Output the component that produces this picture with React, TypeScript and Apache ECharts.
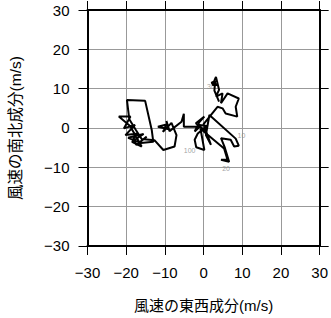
import React, { useEffect, useRef } from "react";
import * as echarts from "echarts";

// Hodograph: east-west (u) and north-south (v) wind components (m/s)
const uWind = [
  -14.7, -17.4, -18.1, -16.8, -20.2, -17.7, -20.6, -18.9, -21.9, -19.0,
  -16.0, -18.5, -15.5, -19.5, -16.2, -13.0, -13.4, -15.1, -19.8, -19.2,
  -17.5, -16.0, -12.7, -10.4, -7.5, -7.0, -8.3, -10.5, -9.6, -11.8,
  -9.0, -9.6, -8.8, -5.7, -5.1, -5.1, -1.0, -2.3, -1.1, 0.2,
  -2.0, 0.5, -1.5, 0.8, -1.5, -2.3, -1.9, 0.2, -0.8, 5.3,
  6.2, 4.5, 6.6, 5.5, 4.5, 7.0, 7.9, 9.1, 8.3, 1.5,
  0.6, 1.9, 0.0, 3.6, 4.9, 5.7, 8.7, 8.3, 9.1, 6.2,
  4.5, 4.9, 3.2, 4.0, 3.2, 2.3, 3.8, 2.0, 3.0, 2.8, 4.0,
];
const vWind = [
  -2.2, -4.3, -2.6, -1.4, -1.8, 0.8, -0.1, 2.9, 2.9, 0.5,
  -4.7, -3.5, -1.5, -2.5, -3.8, -3.5, -0.5, 6.9, 7.1, 2.2,
  -0.5, -2.8, -3.1, -5.6, -4.7, -1.8, 1.3, -1.0, 0.9, 0.3,
  -0.3, 1.8, -0.8, 1.6, 3.6, 0.3, 0.3, -0.9, 1.5, 2.9,
  1.2, -0.8, 0.8, 0.5, -1.4, -3.0, -4.9, -5.6, -0.2, -5.2,
  -8.1, -8.1, -8.6, -5.0, -2.6, -3.0, -4.7, -4.5, -2.7, 3.3,
  -1.8, -4.3, 1.0, 5.4, 5.0, 3.7, 2.9, 5.4, 7.5, 8.8,
  6.3, 8.8, 8.0, 9.7, 13.0, 10.9, 11.0, 11.5, 12.0, 9.5, 6.7,
];

// small marker labels along the trace
const markU = [9.8, 5.8, 1.9, -3.6];
const markV = [-1.8, -10.2, 10.6, -5.6];
const markText = ["10", "20", "30", "100"];

const ticks = [-30, -20, -10, 0, 10, 20, 30];

const FONT = "'Liberation Sans', 'Noto Sans CJK JP', sans-serif";

const fmt = (v: number) => String(v).replace("-", "\u2212");

export default function App() {
  const ref = useRef<HTMLDivElement>(null);
  useEffect(() => {
    if (!ref.current) return;
    const chart = echarts.init(ref.current, undefined, { renderer: "svg" });
    const axisCommon = {
      type: "value" as const,
      min: ticks[0],
      max: ticks[ticks.length - 1],
      interval: 10,
      axisLine: { show: true, onZero: false, lineStyle: { color: "#000", width: 2 } },
      axisTick: { show: true, inside: false, length: 9, lineStyle: { color: "#000", width: 1 } },
      splitLine: { show: true, lineStyle: { color: "#999", width: 1 } },
    };
    chart.setOption({
      animation: false,
      backgroundColor: "#fff",
      textStyle: { fontFamily: FONT },
      grid: { left: 85, right: 11, top: 10, bottom: 72, containLabel: false },
      xAxis: [
        {
          ...axisCommon,
          position: "bottom",
          name: "風速の東西成分(m/s)",
          nameLocation: "middle",
          nameGap: 52,
          nameTextStyle: { fontSize: 15, color: "#000", fontFamily: FONT },
          axisLabel: { margin: 19, fontSize: 15, color: "#000", fontFamily: FONT, formatter: fmt },
        },
        {
          ...axisCommon,
          position: "top",
          splitLine: { show: false },
          axisLabel: { show: false },
        },
      ],
      yAxis: [
        {
          ...axisCommon,
          position: "left",
          name: "風速の南北成分(m/s)",
          nameLocation: "middle",
          nameGap: 64,
          nameRotate: 90,
          nameTextStyle: { fontSize: 15.5, color: "#000", fontFamily: FONT },
          axisLabel: { margin: 18, fontSize: 15, color: "#000", fontFamily: FONT, formatter: fmt },
        },
        {
          ...axisCommon,
          position: "right",
          splitLine: { show: false },
          axisLabel: { show: false },
        },
      ],
      series: [
        {
          type: "line",
          data: uWind.map((u, i) => [u, vWind[i]]),
          showSymbol: false,
          symbol: "none",
          lineStyle: { color: "#000", width: 2 },
          z: 3,
        },
        {
          type: "scatter",
          data: markU.map((u, i) => [u, markV[i], markText[i]]),
          symbolSize: 1,
          itemStyle: { color: "rgba(0,0,0,0)" },
          label: {
            show: true,
            position: "top",
            distance: -4,
            formatter: (p: any) => p.value[2],
            fontSize: 7,
            color: "#8a8a8a",
            fontFamily: FONT,
          },
          z: 2,
        },
      ],
    });
    return () => chart.dispose();
  }, []);
  return (
    <div
      ref={ref}
      style={{ position: "fixed", left: 0, top: 0, width: 331, height: 318, background: "#fff" }}
    />
  );
}
